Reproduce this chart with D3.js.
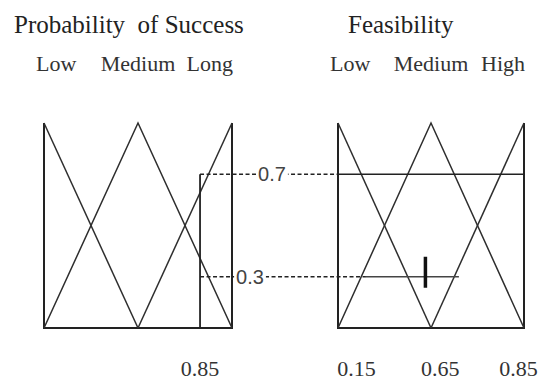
<!DOCTYPE html>
<html>
<head>
<meta charset="utf-8">
<script src="https://cdn.jsdelivr.net/npm/d3@7"></script>
<style>
  body { margin: 0; background: #fff; }
  svg text { white-space: pre; }
</style>
</head>
<body>
<svg id="chart" width="538" height="383"></svg>
<script>
// ---- data ----
const probTitle = "Probability  of Success";
const feasTitle = "Feasibility";
const probSets = ["Low", "Medium", "Long"];
const feasSets = ["Low", "Medium", "High"];
// triangle [start, peak, end] for Low / Medium / High on a 0..1 axis
const setTriangles = [[0, 0, 0.5], [0, 0.5, 1], [0.5, 1, 1]];

const probInput = 0.83;          // where the input line is drawn
const probInputLabel = "0.85";
const cutLevels = [0.75, 0.25];  // heights as drawn
const cutLabels = ["0.7", "0.3"];
const feasCutSpans = [[0, 1], [0.15, 0.65]];
const feasCentroid = 0.47;
const feasTickAt = [0.10, 0.55, 0.97];
const feasTickLabels = ["0.15", "0.65", "0.85"];

// ---- layout ----
const TOP = 123, BOTTOM = 328;
const INK = "#222";
const SERIF = "'Liberation Serif', 'Times New Roman', serif";
const SANS = "'Liberation Sans', Arial, sans-serif";

const svg = d3.select("#chart");
const y = d3.scaleLinear().domain([0, 1]).range([BOTTOM, TOP]);
const xProb = d3.scaleLinear().domain([0, 1]).range([44, 232]);
const xFeas = d3.scaleLinear().domain([0, 1]).range([338, 524]);

const line = d3.line();

function triPoints(t, x) {
  const [a, b, c] = t;
  return [[x(a), y(a === b ? 1 : 0)], [x(b), y(1)], [x(c), y(c === b ? 1 : 0)]];
}

function drawPanel(x, title, titleDx, sets) {
  const g = svg.append("g");

  // frame: two sides + base
  g.append("path")
    .attr("d", line([[x(0), y(1)], [x(0), y(0)], [x(1), y(0)], [x(1), y(1)]]))
    .attr("fill", "none").attr("stroke", INK).attr("stroke-width", 2);

  g.selectAll("path.mf")
    .data(setTriangles)
    .join("path")
    .attr("class", "mf")
    .attr("d", t => line(triPoints(t, x)))
    .attr("fill", "none").attr("stroke", "#2e2e2e").attr("stroke-width", 1.5);

  g.append("text")
    .attr("x", x(0) + titleDx).attr("y", 33)
    .attr("font-family", SERIF).attr("font-size", 25).attr("fill", INK)
    .text(title);

  const anchors = ["start", "middle", "end"];
  const ax = [x(0) - 8, x(0.5), x(1) + 1];
  g.selectAll("text.set")
    .data(sets)
    .join("text")
    .attr("class", "set")
    .attr("x", (d, i) => ax[i]).attr("y", 71)
    .attr("text-anchor", (d, i) => anchors[i])
    .attr("font-family", SERIF).attr("font-size", 22).attr("fill", "#333")
    .text(d => d);
}

drawPanel(xProb, probTitle, -30, probSets);
drawPanel(xFeas, feasTitle, 10, feasSets);

// input line on the probability panel
const px = xProb(probInput);
svg.append("line")
  .attr("x1", px).attr("x2", px)
  .attr("y1", y(0)).attr("y2", y(cutLevels[0]))
  .attr("stroke", INK).attr("stroke-width", 1.8);

// cut levels: dashed link, then solid span in feasibility panel
const labelX = [272, 250];
cutLevels.forEach((lv, i) => {
  const yy = y(lv);
  const [s0, s1] = feasCutSpans[i];
  svg.append("line")
    .attr("x1", px).attr("x2", xFeas(s0))
    .attr("y1", yy).attr("y2", yy)
    .attr("stroke", INK).attr("stroke-width", 1.4)
    .attr("stroke-dasharray", "4,2.5");
  svg.append("line")
    .attr("x1", xFeas(s0)).attr("x2", xFeas(s1))
    .attr("y1", yy).attr("y2", yy)
    .attr("stroke", i === 0 ? INK : "#444").attr("stroke-width", 1.6);

  const t = svg.append("text")
    .attr("x", labelX[i]).attr("y", yy)
    .attr("dy", "0.36em")
    .attr("text-anchor", "middle")
    .attr("font-family", SANS).attr("font-size", 20).attr("fill", "#444")
    .text(cutLabels[i]);
  const bb = t.node().getBBox();
  svg.insert("rect", () => t.node())
    .attr("x", bb.x - 2).attr("y", bb.y + 2)
    .attr("width", bb.width + 4).attr("height", bb.height - 4)
    .attr("fill", "#fff");
});

// centroid marker
svg.append("line")
  .attr("x1", xFeas(feasCentroid)).attr("x2", xFeas(feasCentroid))
  .attr("y1", y(cutLevels[1]) - 20).attr("y2", y(cutLevels[1]) + 11)
  .attr("stroke", "#111").attr("stroke-width", 3.5);

// bottom labels
const bottomY = 376;
svg.append("text")
  .attr("x", px).attr("y", bottomY)
  .attr("text-anchor", "middle")
  .attr("font-family", SERIF).attr("font-size", 22).attr("fill", "#333")
  .text(probInputLabel);

svg.selectAll("text.tick")
  .data(feasTickLabels)
  .join("text")
  .attr("class", "tick")
  .attr("x", (d, i) => xFeas(feasTickAt[i])).attr("y", bottomY)
  .attr("text-anchor", "middle")
  .attr("font-family", SERIF).attr("font-size", 22).attr("fill", "#333")
  .text(d => d);
</script>
</body>
</html>
